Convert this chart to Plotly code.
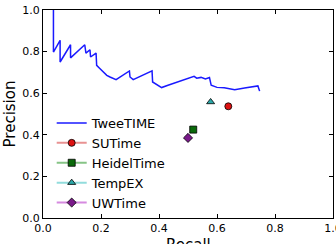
import plotly.graph_objects as go

# TweeTIME precision-recall curve
twee_recall = [0.036, 0.036, 0.059, 0.059, 0.095, 0.095, 0.144, 0.148, 0.162, 0.164,
               0.183, 0.185, 0.195, 0.205, 0.22, 0.231, 0.252, 0.298, 0.300, 0.311,
               0.376, 0.378, 0.39, 0.409, 0.431, 0.521, 0.53, 0.545, 0.56, 0.574,
               0.580, 0.60, 0.625, 0.645, 0.661, 0.695, 0.741, 0.747]
twee_precision = [1.0, 0.798, 0.854, 0.75, 0.833, 0.77, 0.833, 0.793, 0.809, 0.774,
                  0.793, 0.734, 0.72, 0.705, 0.686, 0.678, 0.665, 0.707, 0.678, 0.665,
                  0.707, 0.654, 0.645, 0.627, 0.638, 0.681, 0.672, 0.676, 0.668, 0.675,
                  0.638, 0.628, 0.626, 0.62, 0.617, 0.625, 0.635, 0.61]

systems = ["SUTime", "HeidelTime", "TempEX", "UWTime"]
sys_recall = [0.639, 0.518, 0.578, 0.500]
sys_precision = [0.537, 0.425, 0.558, 0.385]
symbols = ["circle", "square", "triangle-up", "diamond"]
marker_colors = ["#dd1111", "#0a6a0a", "#2aa8a8", "#7a1a8a"]
line_colors = ["#e89292", "#86c486", "#92dcdc", "#d68ae0"]

fig = go.Figure()
fig.add_trace(go.Scatter(x=twee_recall, y=twee_precision, mode="lines",
                         name="TweeTIME", line=dict(color="#1a1aff", width=1.5)))
for name, rx, py, sym, mc, lc in zip(systems, sys_recall, sys_precision,
                                      symbols, marker_colors, line_colors):
    fig.add_trace(go.Scatter(x=[rx], y=[py], mode="lines+markers", name=name,
                             line=dict(color=lc, width=2),
                             marker=dict(symbol=sym, color=mc, size=7,
                                         line=dict(color="black", width=0.8))))

axis_common = dict(range=[0, 1], dtick=0.2, tickformat=".1f", ticks="inside",
                   ticklen=4, tickcolor="black", showgrid=False, zeroline=False,
                   showline=True, linecolor="black", linewidth=1, mirror="ticks",
                   tickfont=dict(size=11, color="black"), ticklabeloverflow="allow")
fig.update_xaxes(**axis_common, automargin=False)
fig.update_yaxes(**axis_common, title=dict(text="Precision", font=dict(size=15, color="black"),
                                           standoff=3), automargin=False)

fig.add_annotation(text="Recall", xref="paper", yref="paper", x=0.5, y=-0.075,
                   xanchor="center", yanchor="top", showarrow=False,
                   font=dict(size=15, color="black"))

fig.update_layout(
    width=336, height=244,
    margin=dict(l=43, r=3, t=10, b=26),
    paper_bgcolor="white", plot_bgcolor="white",
    font=dict(family="DejaVu Sans", color="black"),
    legend=dict(x=0.03, y=0.0, xanchor="left", yanchor="bottom",
                bgcolor="rgba(0,0,0,0)", font=dict(size=13), itemwidth=30,
                tracegroupgap=0),
)
fig.write_html("out.html")
